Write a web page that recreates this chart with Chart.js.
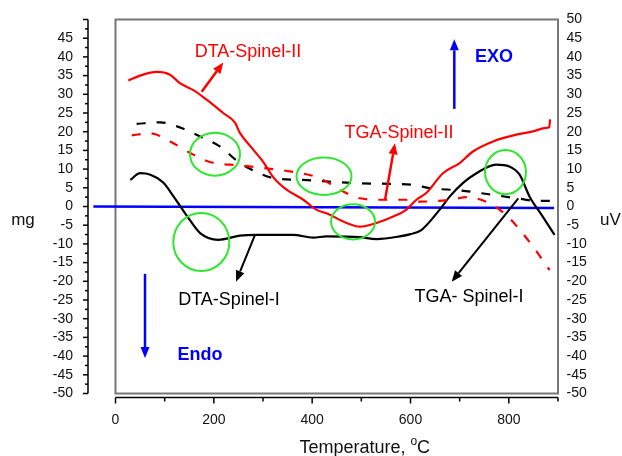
<!DOCTYPE html>
<html><head><meta charset="utf-8">
<script src="https://cdn.jsdelivr.net/npm/chart.js@4.4.1/dist/chart.umd.min.js"></script>
<style>html,body{margin:0;padding:0;background:#fff}canvas{display:block}</style>
</head><body>
<canvas id="c" width="622" height="456"></canvas>
<script>
// ---------- data (temperature in °C, signal in mg / uV) ----------
const dtaIITemp = [26, 50, 84, 110, 131, 160, 186, 219, 243, 253, 275, 300, 320, 334, 350, 382, 409, 429, 470, 497, 531, 565, 591, 598, 612, 632, 666, 700, 727, 768, 815, 849, 876, 882, 884];
const dtaIIVal  = [33.7, 35, 36, 35.3, 33, 31, 28.5, 25, 22.4, 19.7, 16, 12, 8, 6, 4.3, 1.8, -0.9, -1.8, -4.4, -5.4, -4.4, -2.7, -0.9, 0, 1.8, 3.6, 8.9, 11.6, 14.7, 17.4, 19.2, 20.1, 21, 21.2, 23.3];

const tgaIITemp = [33, 70, 111, 152, 192, 253, 300, 354, 415, 456, 497, 544, 591, 619, 680, 716, 761, 794, 822, 849, 883];
const tgaIIVal  = [19, 19.6, 17.4, 14.3, 11.9, 11, 10.3, 9.4, 7.6, 4.5, 2.2, 1.8, 1.8, 1.3, 1.8, 2.5, 0.8, -2.2, -6.2, -10.7, -17];

const tgaITemp = [43, 91, 134, 172, 213, 250, 284, 321, 382, 429, 497, 605, 639, 700, 768, 822, 855, 893];
const tgaIVal  = [22.1, 22.5, 21, 18.7, 16, 11.9, 9.4, 7.6, 7.1, 6.7, 6.2, 5.8, 4.9, 4.3, 3.1, 2.1, 1.5, 1.5];

const dtaITemp = [30, 50, 71, 97, 118, 134, 151, 172, 209, 253, 287, 361, 402, 429, 497, 531, 578, 600, 622, 659, 680, 707, 734, 774, 801, 822, 842, 869, 893];
const dtaIVal  = [7.1, 8.9, 8.5, 6.4, 2.7, -0.4, -3.6, -7.1, -8.9, -7.8, -7.6, -7.6, -8.3, -8.0, -8.2, -8.7, -8.0, -7.4, -6.3, -0.9, 2.7, 6.3, 8.9, 11.2, 10.7, 8.5, 2.7, -2.7, -7.6];

const baseTemp = [-45, 892];
const baseVal  = [0, -0.4];

const xTickValues = [0, 100, 200, 300, 400, 500, 600, 700, 800, 900];
const xTickLabels = ['0', '', '200', '', '400', '', '600', '', '800', ''];
const yTickValues = [-50, -45, -40, -35, -30, -25, -20, -15, -10, -5, 0, 5, 10, 15, 20, 25, 30, 35, 40, 45, 50];

// annotation texts (anchored in data units)
const noteTexts  = ['DTA-Spinel-II', 'TGA-Spinel-II', 'EXO', 'Endo', 'DTA-Spinel-I', 'TGA- Spinel-I'];
const noteTemp   = [269.5, 576.6, 769.8, 171.9, 230.8, 719];
const noteVal    = [41.4, 19.6, 40, -39.7, -25, -24.1];
const noteColor  = ['#ff0000', '#ff0000', '#0000ff', '#0000ff', '#000000', '#000000'];
const noteBold   = [false, false, true, true, false, false];

// arrows: from (T1,v1) to head (T2,v2)
const arrowT1 = [175.3, 548.1, 689.1, 60, 283.7, 819.2];
const arrowV1 = [30.7, 1.7, 26.1, -18, -7.6, 2.2];
const arrowT2 = [219.3, 568.4, 689.1, 60, 245.1, 683.8];
const arrowV2 = [38.5, 16.9, 44.7, -40.5, -20.1, -20.1];
const arrowColor = ['#ff0000', '#ff0000', '#0000ff', '#0000ff', '#000000', '#000000'];

// green ellipses: centre and radii in data units
const ringT  = [202.4, 424.1, 483.1, 793.2, 174.5];
const ringV  = [14.0, 8.1, -4.1, 9.2, -9.5];
const ringRT = [50.8, 55.9, 44.7, 41.7, 57];
const ringRV = [5.75, 5.0, 4.7, 5.9, 7.75];

// ---------- chart ----------
const FONT = "'Liberation Sans', Arial, Helvetica, sans-serif";
const pts = (t, v) => t.map((x, i) => ({x: x, y: v[i]}));

const deco = {
  id: 'deco',
  beforeDatasetsDraw(chart) {
    const {ctx, chartArea: a} = chart;
    ctx.save();
    ctx.strokeStyle = '#777777';
    ctx.lineWidth = 2;
    ctx.strokeRect(a.left, a.top, a.right - a.left, a.bottom - a.top);
    ctx.restore();
  },
  afterDatasetsDraw(chart) {
    const {ctx, chartArea: a, scales} = chart;
    const x = scales.x, y = scales.y;
    ctx.save();
    ctx.strokeStyle = '#000';
    ctx.lineWidth = 1.5;
    // bottom axis (offset below plot box)
    const ay = a.bottom + 4;
    ctx.beginPath(); ctx.moveTo(a.left, ay); ctx.lineTo(a.right, ay); ctx.stroke();
    xTickValues.forEach((v, i) => {
      const px = x.getPixelForValue(v);
      const len = xTickLabels[i] ? 6 : 4;
      ctx.beginPath(); ctx.moveTo(px, ay); ctx.lineTo(px, ay + len); ctx.stroke();
    });
    // left axis (offset left of plot box)
    const ax = a.left - 27.5;
    ctx.beginPath(); ctx.moveTo(ax, y.getPixelForValue(50)); ctx.lineTo(ax, y.getPixelForValue(-50)); ctx.stroke();
    yTickValues.forEach(v => {
      const py = y.getPixelForValue(v);
      ctx.beginPath(); ctx.moveTo(ax, py); ctx.lineTo(ax - 5, py); ctx.stroke();
      if (v < 50) {
        const pm = y.getPixelForValue(v + 2.5);
        ctx.beginPath(); ctx.moveTo(ax, pm); ctx.lineTo(ax - 3, pm); ctx.stroke();
      }
    });

    // green rings
    ctx.strokeStyle = '#2ee62e';
    ctx.lineWidth = 2;
    ringT.forEach((t, i) => {
      const cx = x.getPixelForValue(t), cy = y.getPixelForValue(ringV[i]);
      const rx = Math.abs(x.getPixelForValue(t + ringRT[i]) - cx);
      const ry = Math.abs(y.getPixelForValue(ringV[i] + ringRV[i]) - cy);
      ctx.beginPath(); ctx.ellipse(cx, cy, rx, ry, 0, 0, Math.PI * 2); ctx.stroke();
    });

    // arrows
    arrowT1.forEach((t, i) => {
      const x1 = x.getPixelForValue(t), y1 = y.getPixelForValue(arrowV1[i]);
      const x2 = x.getPixelForValue(arrowT2[i]), y2 = y.getPixelForValue(arrowV2[i]);
      const ang = Math.atan2(y2 - y1, x2 - x1);
      const hl = 11, hw = 4.5;
      const bx = x2 - hl * Math.cos(ang), by = y2 - hl * Math.sin(ang);
      ctx.strokeStyle = arrowColor[i]; ctx.fillStyle = arrowColor[i];
      ctx.lineWidth = arrowColor[i] === '#000000' ? 2 : 2.5;
      ctx.beginPath(); ctx.moveTo(x1, y1); ctx.lineTo(bx, by); ctx.stroke();
      ctx.beginPath();
      ctx.moveTo(x2, y2);
      ctx.lineTo(bx + hw * Math.sin(ang), by - hw * Math.cos(ang));
      ctx.lineTo(bx - hw * Math.sin(ang), by + hw * Math.cos(ang));
      ctx.closePath(); ctx.fill();
    });

    // annotation texts
    ctx.textAlign = 'center';
    ctx.textBaseline = 'middle';
    noteTexts.forEach((s, i) => {
      ctx.font = (noteBold[i] ? 'bold ' : '') + '18px ' + FONT;
      ctx.fillStyle = noteColor[i];
      ctx.fillText(s, x.getPixelForValue(noteTemp[i]), y.getPixelForValue(noteVal[i]));
    });

    // axis titles
    ctx.fillStyle = '#111';
    ctx.font = '17px ' + FONT;
    ctx.fillText('mg', 23, y.getPixelForValue(0) + 14);
    ctx.fillText('uV', 610.5, y.getPixelForValue(0) + 14);

    // x title with superscript
    ctx.textBaseline = 'alphabetic';
    ctx.textAlign = 'left';
    const t1 = 'Temperature, ', t2 = 'o', t3 = 'C';
    ctx.font = '18px ' + FONT; const w1 = ctx.measureText(t1).width, w3 = ctx.measureText(t3).width;
    ctx.font = '12px ' + FONT; const w2 = ctx.measureText(t2).width;
    const tx = (a.left + a.right) / 2 + 28 - (w1 + w2 + w3) / 2;
    const tb = a.bottom + 59;
    ctx.font = '18px ' + FONT; ctx.fillText(t1, tx, tb);
    ctx.font = '12px ' + FONT; ctx.fillText(t2, tx + w1, tb - 8);
    ctx.font = '18px ' + FONT; ctx.fillText(t3, tx + w1 + w2, tb);
    ctx.restore();
  }
};

const common = {pointRadius: 0, borderWidth: 2.2, fill: false, cubicInterpolationMode: 'monotone'};
const hiddenTicks = len => ({display: true, drawOnChartArea: false, drawTicks: true, tickLength: len, tickColor: 'rgba(0,0,0,0)', color: 'rgba(0,0,0,0)'});

new Chart(document.getElementById('c'), {
  type: 'line',
  data: {
    datasets: [
      Object.assign({label: 'DTA-Spinel-II', data: pts(dtaIITemp, dtaIIVal), borderColor: '#ff0000'}, common),
      Object.assign({label: 'TGA-Spinel-II', data: pts(tgaIITemp, tgaIIVal), borderColor: '#ff0000', borderDash: [9, 11]}, common),
      Object.assign({label: 'TGA- Spinel-I', data: pts(tgaITemp, tgaIVal), borderColor: '#000000', borderDash: [9, 11]}, common),
      Object.assign({label: 'DTA-Spinel-I', data: pts(dtaITemp, dtaIVal), borderColor: '#000000'}, common),
      Object.assign({label: 'baseline', data: pts(baseTemp, baseVal), borderColor: '#0000ff', clip: false}, common, {borderWidth: 2.5})
    ]
  },
  options: {
    responsive: false,
    animation: false,
    events: [],
    layout: {padding: {top: 19.5, left: 0, right: 0, bottom: 0}},
    plugins: {legend: {display: false}, tooltip: {enabled: false}},
    scales: {
      x: {
        type: 'linear', position: 'bottom', min: 0, max: 900,
        afterBuildTicks: s => { s.ticks = xTickValues.map(v => ({value: v})); },
        afterFit: s => { s.height = 62.5; },
        grid: hiddenTicks(8), border: {display: false},
        ticks: {autoSkip: false, maxRotation: 0, padding: 10, color: '#111', font: {family: FONT, size: 14},
          callback: (v) => xTickLabels[xTickValues.indexOf(v)] ?? ''}
      },
      y: {
        type: 'linear', position: 'left', min: -50, max: 50,
        afterBuildTicks: s => { s.ticks = yTickValues.map(v => ({value: v})); },
        afterFit: s => { s.width = 115.5; },
        grid: hiddenTicks(40.5), border: {display: false},
        ticks: {autoSkip: false, padding: 2, color: '#111', font: {family: FONT, size: 14},
          callback: v => v === 50 ? '' : String(v)}
      },
      y2: {
        type: 'linear', position: 'right', min: -50, max: 50,
        afterBuildTicks: s => { s.ticks = yTickValues.map(v => ({value: v})); },
        afterFit: s => { s.width = 64; },
        grid: hiddenTicks(6.5), border: {display: false},
        ticks: {autoSkip: false, padding: 2, color: '#111', font: {family: FONT, size: 14},
          callback: v => String(v)}
      }
    }
  },
  plugins: [deco]
});
</script>
</body></html>
